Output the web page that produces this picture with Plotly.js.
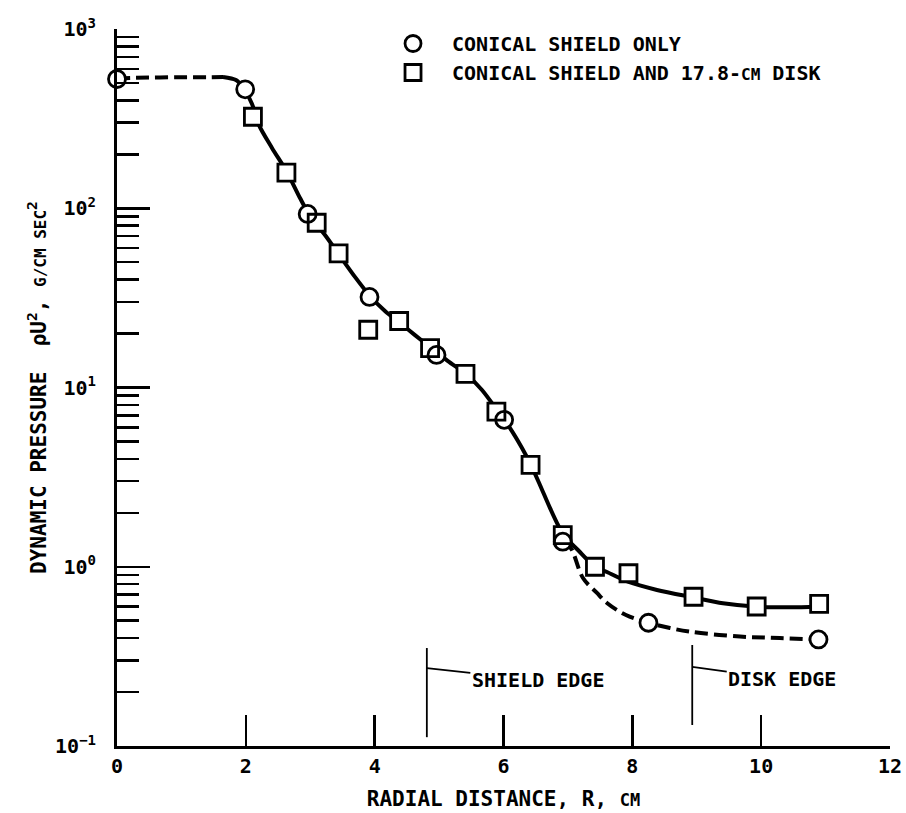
<!DOCTYPE html>
<html>
<head>
<meta charset="utf-8">
<script src="https://cdn.plot.ly/plotly-3.0.1.min.js"></script>
<style>html,body{margin:0;padding:0;background:#fff;}#chart{width:906px;height:813px;}</style>
</head>
<body>
<div id="chart"></div>
<script>
// ---- data ----
const circleX = [0, 1.99, 2.96, 3.92, 4.96, 6.01, 6.92, 8.25, 10.89];
const circleY = [526, 461, 93, 32, 15.2, 6.6, 1.38, 0.487, 0.393];
const squareX = [2.11, 2.63, 3.10, 3.44, 3.90, 4.38, 4.86, 5.41, 5.89, 6.42, 6.92, 7.42, 7.94, 8.95, 9.93, 10.90];
const squareY = [324, 158, 83, 56, 21, 23.5, 16.6, 11.9, 7.33, 3.70, 1.50, 1.00, 0.92, 0.68, 0.60, 0.62];

// faired curves
const topDashX = [0, 0.5, 1.0, 1.4, 1.65];
const topDashY = [530, 536, 538, 538, 540];
const solidX = [1.645, 1.847, 1.971, 2.096, 2.204, 2.406, 2.639, 2.841, 2.996, 3.229, 3.462, 3.694, 3.927, 4.160, 4.393, 4.626, 4.859, 5.138, 5.418, 5.666, 5.899, 6.101, 6.287, 6.427, 6.566, 6.721, 6.846, 6.954, 7.156, 7.42, 7.606, 7.932, 8.382, 8.941, 9.407, 9.935, 10.45, 10.90];
const solidY = [540, 519, 463, 382, 291, 217, 159, 114, 90.5, 70.9, 54.1, 41.4, 32.4, 26.7, 22.9, 19.6, 16.8, 14.05, 11.9, 9.69, 7.49, 5.94, 4.60, 3.69, 2.86, 2.13, 1.71, 1.47, 1.24, 1.00, 0.935, 0.825, 0.742, 0.675, 0.626, 0.599, 0.594, 0.599];
const lowDashX = [6.954, 7.063, 7.234, 7.451, 7.606, 7.901, 8.25, 8.584, 8.895, 9.671, 10.29, 10.88];
const lowDashY = [1.41, 1.24, 0.865, 0.714, 0.628, 0.538, 0.487, 0.455, 0.434, 0.408, 0.400, 0.393];

// axis ticks
const xTickVals = [0, 2, 4, 6, 8, 10, 12];
const xTickText = ['0', '2', '4', '6', '8', '10', '12'];
const yTickVals = [0.1, 1, 10, 100, 1000];
const yExponents = ['\u22121', '0', '1', '2', '3'];
const yTickText = yExponents.map(e => '10<sup>' + e + '</sup>');
const yMinorVals = [];
[0.1, 1, 10, 100].forEach(d => { for (let k = 2; k <= 9; k++) yMinorVals.push(+(d * k).toPrecision(3)); });

// edge markers
const edgeNames = ['SHIELD EDGE', 'DISK EDGE'];
const edgeX = [4.81, 8.93];
const edgeY0 = [0.112, 0.131];
const edgeY1 = [0.352, 0.366];
const edgeTipY = [0.272, 0.276];

const legendNames = ['CONICAL SHIELD ONLY', 'CONICAL SHIELD AND 17.8-<span style="font-size:16px">CM</span> DISK'];

const FONT = 'DejaVu Sans Mono, monospace';
const MS = 17;

const traces = [
  {x: topDashX, y: topDashY, mode: 'lines', line: {color: '#000', width: 4, dash: '13px,6px', shape: 'spline'}, showlegend: false, hoverinfo: 'skip'},
  {x: solidX, y: solidY, mode: 'lines', line: {color: '#000', width: 4, shape: 'spline', smoothing: 0.8}, showlegend: false, hoverinfo: 'skip'},
  {x: lowDashX, y: lowDashY, mode: 'lines', line: {color: '#000', width: 4, dash: '13px,6px', shape: 'spline'}, showlegend: false, hoverinfo: 'skip'},
  {x: circleX, y: circleY, mode: 'markers', marker: {symbol: 'circle', size: MS, color: '#fff', line: {width: 0}}, showlegend: false, cliponaxis: false},
  {x: squareX, y: squareY, mode: 'markers', marker: {symbol: 'square', size: MS, color: '#fff', line: {width: 0}}, showlegend: false, cliponaxis: false},
  {x: circleX, y: circleY, mode: 'markers', name: legendNames[0], marker: {symbol: 'circle-open', size: MS, color: '#000', line: {width: 2.8, color: '#000'}}, cliponaxis: false},
  {x: squareX, y: squareY, mode: 'markers', name: legendNames[1], marker: {symbol: 'square-open', size: MS, color: '#000', line: {width: 2.8, color: '#000'}}, cliponaxis: false}
];

const shapes = edgeX.map((x, i) => ({type: 'line', xref: 'x', yref: 'y', x0: x, x1: x, y0: edgeY0[i], y1: edgeY1[i], line: {color: '#000', width: 1.8}}));
const annots = [
  {x: edgeX[0], y: Math.log10(edgeTipY[0]), xref: 'x', yref: 'y', text: edgeNames[0], showarrow: true, arrowhead: 0, arrowwidth: 1.8, arrowcolor: '#000', ax: 111, ay: 12, standoff: 0, font: {family: FONT, size: 20, color: '#000', weight: 'bold'}},
  {x: edgeX[1], y: Math.log10(edgeTipY[1]), xref: 'x', yref: 'y', text: edgeNames[1], showarrow: true, arrowhead: 0, arrowwidth: 1.8, arrowcolor: '#000', ax: 90, ay: 12, standoff: 0, font: {family: FONT, size: 20, color: '#000', weight: 'bold'}}
];

const layout = {
  width: 906, height: 813,
  margin: {l: 117, r: 16, t: 29, b: 67},
  paper_bgcolor: '#fff', plot_bgcolor: '#fff',
  font: {family: FONT, color: '#000', size: 20, weight: 'bold'},
  showlegend: true,
  legend: {x: 0.3325, y: 1.007, xanchor: 'left', yanchor: 'top', bgcolor: 'rgba(0,0,0,0)', font: {family: FONT, size: 20, color: '#000', weight: 'bold'}, itemwidth: 68},
  xaxis: {
    range: [0, 12], tickmode: 'array', tickvals: xTickVals, ticktext: xTickText,
    ticks: 'inside', ticklen: 31, tickwidth: 2.5, tickcolor: '#000',
    showline: true, linewidth: 3, linecolor: '#000', showgrid: false, zeroline: false,
    tickfont: {family: FONT, size: 20, color: '#000', weight: 'bold'}, ticklabelstandoff: 0,
    title: {text: 'RADIAL DISTANCE, R, <span style="font-size:17px">CM</span>', font: {family: FONT, size: 21, color: '#000', weight: 'bold'}, standoff: 15}
  },
  yaxis: {
    type: 'log', range: [-1, 3], tickmode: 'array', tickvals: yTickVals, ticktext: yTickText,
    ticks: 'inside', ticklen: 33, tickwidth: 2.5, tickcolor: '#000',
    minor: {tickmode: 'array', tickvals: yMinorVals, ticks: 'inside', ticklen: 22, tickwidth: 2.5, tickcolor: '#000', showgrid: false},
    showline: true, linewidth: 3, linecolor: '#000', showgrid: false, zeroline: false,
    tickfont: {family: FONT, size: 20, color: '#000', weight: 'bold'}, ticklabelstandoff: 14,
    title: {text: 'DYNAMIC PRESSURE  \u03c1U<sup>2</sup>, <span style="font-size:16px">G/CM SEC</span><sup>2</sup>', font: {family: FONT, size: 21, color: '#000', weight: 'bold'}, standoff: 3}
  },
  shapes: shapes,
  annotations: annots
};

Plotly.newPlot('chart', traces, layout, {displayModeBar: false, staticPlot: true});
</script>
</body>
</html>
